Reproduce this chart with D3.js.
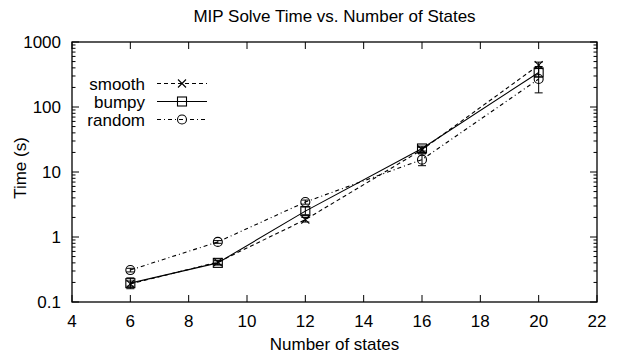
<!DOCTYPE html>
<html>
<head>
<meta charset="utf-8">
<script src="https://cdn.jsdelivr.net/npm/d3@7.9.0/dist/d3.min.js"></script>
<style>
  html, body { margin: 0; padding: 0; background: #fff; }
  svg { display: block; font-family: 'Liberation Sans', Arial, sans-serif; }
</style>
</head>
<body>
<svg id="chart" width="621" height="358"></svg>
<script>
// data
const states = [6, 9, 12, 16, 20];

const smooth = [0.19, 0.41, 1.85, 22, 440];
const smoothLo = [0.175, 0.38, 1.7, 20, 390];
const smoothHi = [0.21, 0.44, 2.0, 24, 490];

const bumpy = [0.195, 0.40, 2.5, 23, 340];
const bumpyLo = [0.16, 0.37, 2.2, 21, 290];
const bumpyHi = [0.235, 0.43, 2.9, 25, 395];

const random = [0.31, 0.84, 3.45, 15.5, 270];
const randomLo = [0.29, 0.80, 3.2, 12.5, 165];
const randomHi = [0.33, 0.88, 3.7, 19, 420];

const xTicks = [4, 6, 8, 10, 12, 14, 16, 18, 20, 22];
const yTicks = [0.1, 1, 10, 100, 1000];

const series = [
  { name: 'smooth', vals: smooth, lo: smoothLo, hi: smoothHi, dash: '4,3', marker: 'x' },
  { name: 'bumpy', vals: bumpy, lo: bumpyLo, hi: bumpyHi, dash: null, marker: 'square' },
  { name: 'random', vals: random, lo: randomLo, hi: randomHi, dash: '4,3,1,3', marker: 'circle' },
];

const svg = d3.select('#chart');
const plotL = 72, plotR = 597, plotT = 42, plotB = 302;
const fs = 17;

const x = d3.scaleLinear().domain([4, 22]).range([plotL, plotR]);
const y = d3.scaleLog().domain([0.1, 1000]).range([plotB, plotT]);

// frame
svg.append('rect')
  .attr('x', plotL).attr('y', plotT)
  .attr('width', plotR - plotL).attr('height', plotB - plotT)
  .attr('fill', 'none').attr('stroke', '#000').attr('stroke-width', 1.3);

const major = 7, minor = 3.5;

// x ticks (bottom and mirrored top)
xTicks.forEach((t) => {
  const px = x(t);
  svg.append('line').attr('x1', px).attr('x2', px).attr('y1', plotB).attr('y2', plotB - major)
    .attr('stroke', '#000');
  svg.append('line').attr('x1', px).attr('x2', px).attr('y1', plotT).attr('y2', plotT + major)
    .attr('stroke', '#000');
  svg.append('text').attr('x', px).attr('y', 327)
    .attr('text-anchor', 'middle').attr('font-size', fs).text(t);
});

// y ticks, with minor ticks on the log axis
yTicks.forEach((t, i) => {
  const py = y(t);
  [[plotL, plotL + major], [plotR, plotR - major]].forEach(([a, b]) => {
    svg.append('line').attr('x1', a).attr('x2', b).attr('y1', py).attr('y2', py).attr('stroke', '#000');
  });
  svg.append('text').attr('x', 61).attr('y', py + 6)
    .attr('text-anchor', 'end').attr('font-size', fs).text(t);
  if (i < yTicks.length - 1) {
    for (let k = 2; k <= 9; k++) {
      const pm = y(t * k);
      [[plotL, plotL + minor], [plotR, plotR - minor]].forEach(([a, b]) => {
        svg.append('line').attr('x1', a).attr('x2', b).attr('y1', pm).attr('y2', pm).attr('stroke', '#000');
      });
    }
  }
});

// titles
svg.append('text').attr('x', (plotL + plotR) / 2).attr('y', 22).attr('text-anchor', 'middle')
  .attr('font-size', fs).text('MIP Solve Time vs. Number of States');
svg.append('text').attr('x', (plotL + plotR) / 2).attr('y', 350).attr('text-anchor', 'middle')
  .attr('font-size', fs).text('Number of states');
svg.append('text').attr('transform', `translate(26,168) rotate(-90)`)
  .attr('text-anchor', 'middle').attr('font-size', fs).text('Time (s)');

function drawMarker(g, type, cx, cy) {
  if (type === 'square') {
    g.append('rect').attr('x', cx - 4.5).attr('y', cy - 4.5).attr('width', 9).attr('height', 9)
      .attr('fill', 'none').attr('stroke', '#000').attr('stroke-width', 1.1);
  } else if (type === 'circle') {
    g.append('circle').attr('cx', cx).attr('cy', cy).attr('r', 4.5)
      .attr('fill', 'none').attr('stroke', '#000').attr('stroke-width', 1.1);
  } else {
    g.append('path').attr('d', `M${cx - 4},${cy - 4}L${cx + 4},${cy + 4}M${cx - 4},${cy + 4}L${cx + 4},${cy - 4}`)
      .attr('stroke', '#000').attr('stroke-width', 1.1);
  }
}

const line = d3.line().x((d) => x(d[0])).y((d) => y(d[1]));

series.forEach((s) => {
  const g = svg.append('g');
  const pts = states.map((st, i) => [st, s.vals[i]]);
  g.append('path').attr('d', line(pts)).attr('fill', 'none').attr('stroke', '#000')
    .attr('stroke-width', 1.1).attr('stroke-dasharray', s.dash);
  states.forEach((st, i) => {
    const px = x(st);
    g.append('line').attr('x1', px).attr('x2', px).attr('y1', y(s.lo[i])).attr('y2', y(s.hi[i]))
      .attr('stroke', '#000');
    [s.lo[i], s.hi[i]].forEach((v) => {
      g.append('line').attr('x1', px - 4).attr('x2', px + 4).attr('y1', y(v)).attr('y2', y(v))
        .attr('stroke', '#000');
    });
    drawMarker(g, s.marker, px, y(s.vals[i]));
  });
});

// legend
series.forEach((s, i) => {
  const ly = 83.5 + i * 18;
  svg.append('text').attr('x', 145).attr('y', ly + 6.5).attr('text-anchor', 'end')
    .attr('font-size', fs).text(s.name);
  svg.append('line').attr('x1', 157).attr('x2', 207).attr('y1', ly).attr('y2', ly)
    .attr('stroke', '#000').attr('stroke-width', 1.1).attr('stroke-dasharray', s.dash);
  drawMarker(svg, s.marker, 182, ly);
});
</script>
</body>
</html>
